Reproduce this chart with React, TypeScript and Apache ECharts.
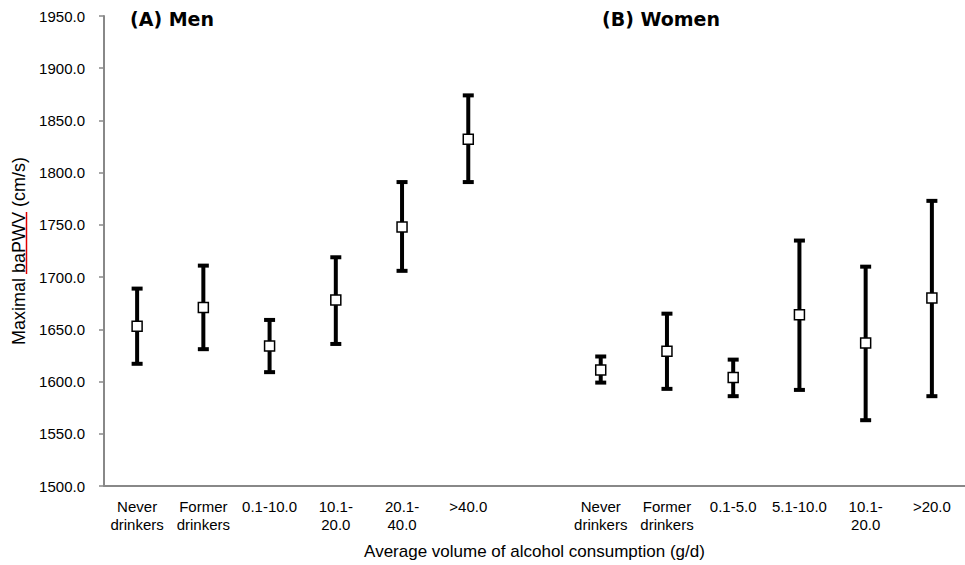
import React, { useEffect, useRef } from "react";
import * as echarts from "echarts";

const categories = [
  "Never\ndrinkers", "Former\ndrinkers", "0.1-10.0", "10.1-\n20.0", "20.1-\n40.0", ">40.0",
  "",
  "Never\ndrinkers", "Former\ndrinkers", "0.1-5.0", "5.1-10.0", "10.1-\n20.0", ">20.0",
];

const menMean = [1653, 1671, 1634, 1678, 1748, 1832];
const menLow = [1617, 1631, 1609, 1636, 1706, 1791];
const menHigh = [1689, 1711, 1659, 1719, 1791, 1874];

const womenMean = [1611, 1629, 1604, 1664, 1637, 1680];
const womenLow = [1599, 1593, 1586, 1592, 1563, 1586];
const womenHigh = [1624, 1665, 1621, 1735, 1710, 1773];

const womenOffset = 7;

const yTicks = { min: 1500, max: 1950, interval: 50 };

const FONT = "'Liberation Sans', Arial, sans-serif";
const TITLE_FONT = "'DejaVu Sans', 'Liberation Sans', sans-serif";

export default function App() {
  const ref = useRef<HTMLDivElement>(null);

  useEffect(() => {
    if (!ref.current) return;
    const chart = echarts.init(ref.current, null, { renderer: "svg" });

    const errData: number[][] = [];
    const meanData: number[][] = [];
    menMean.forEach((m, i) => {
      errData.push([i, menLow[i], menHigh[i]]);
      meanData.push([i, m]);
    });
    womenMean.forEach((m, i) => {
      errData.push([i + womenOffset, womenLow[i], womenHigh[i]]);
      meanData.push([i + womenOffset, m]);
    });

    chart.setOption({
      animation: false,
      backgroundColor: "#fff",
      textStyle: { fontFamily: FONT },
      grid: { left: 104, right: -7, top: 16, bottom: 78, containLabel: false },
      xAxis: {
        type: "category",
        data: categories,
        boundaryGap: true,
        name: "Average volume of alcohol consumption (g/d)",
        nameLocation: "middle",
        nameGap: 57,
        nameTextStyle: { fontSize: 17, color: "#000", fontFamily: FONT },
        axisLine: { lineStyle: { color: "#888", width: 2 } },
        axisTick: { alignWithLabel: true, length: 3, lineStyle: { color: "#888", width: 1.5 } },
        axisLabel: {
          interval: 0,
          color: "#000",
          fontSize: 15,
          lineHeight: 18,
          margin: 11,
          fontFamily: FONT,
        },
        splitLine: { show: false },
      },
      yAxis: {
        type: "value",
        min: yTicks.min,
        max: yTicks.max,
        interval: yTicks.interval,
        name: "Maximal baPWV (cm/s)",
        nameLocation: "middle",
        nameGap: 76,
        nameTextStyle: { fontSize: 18, color: "#000", fontFamily: FONT },
        axisLine: { show: true, lineStyle: { color: "#888", width: 2 } },
        axisTick: { show: true, length: 5, lineStyle: { color: "#888", width: 1.5 } },
        axisLabel: {
          color: "#000",
          fontSize: 15,
          margin: 19,
          fontFamily: FONT,
          formatter: (v: number) => v.toFixed(1),
        },
        splitLine: { show: false },
      },
      graphic: [
        {
          type: "text",
          left: 130,
          top: 9,
          style: { text: "(A) Men", font: `bold 19px ${TITLE_FONT}`, fill: "#000" },
        },
        {
          type: "text",
          left: 602,
          top: 9,
          style: { text: "(B) Women", font: `bold 19px ${TITLE_FONT}`, fill: "#000" },
        },
        {
          type: "line",
          shape: { x1: 26.5, y1: 212, x2: 26.5, y2: 274 },
          style: { stroke: "#e00000", lineWidth: 1.5 },
        },
      ],
      series: [
        {
          type: "custom",
          data: errData,
          z: 2,
          renderItem: (params: any, api: any) => {
            const x = api.value(0);
            const lo = api.coord([x, api.value(1)]);
            const hi = api.coord([x, api.value(2)]);
            const hw = 5.5;
            const st = { stroke: "#000", lineWidth: 4 };
            return {
              type: "group",
              children: [
                { type: "line", shape: { x1: lo[0], y1: lo[1], x2: hi[0], y2: hi[1] }, style: st },
                { type: "line", shape: { x1: lo[0] - hw, y1: lo[1], x2: lo[0] + hw, y2: lo[1] }, style: st },
                { type: "line", shape: { x1: hi[0] - hw, y1: hi[1], x2: hi[0] + hw, y2: hi[1] }, style: st },
              ],
            };
          },
        },
        {
          type: "scatter",
          data: meanData,
          z: 3,
          symbol: "rect",
          symbolSize: [10, 10],
          itemStyle: { color: "#fff", borderColor: "#000", borderWidth: 1.5, opacity: 1 },
        },
      ],
    });

    return () => chart.dispose();
  }, []);

  return (
    <div
      ref={ref}
      style={{ position: "fixed", left: 0, top: 0, width: 965, height: 565, background: "#fff" }}
    />
  );
}
